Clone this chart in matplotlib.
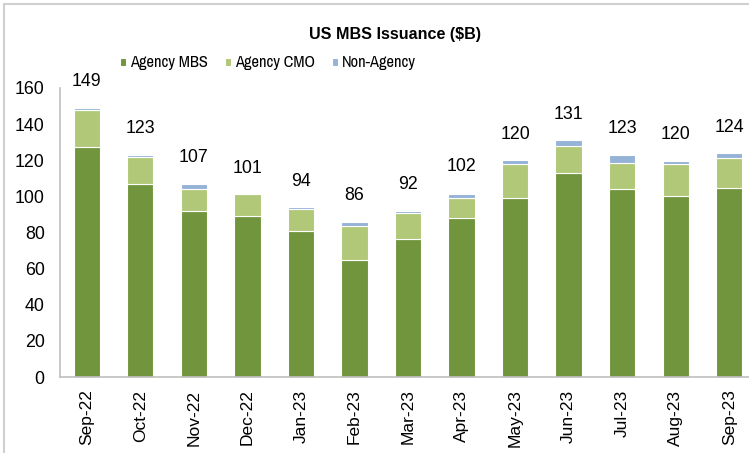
import matplotlib
matplotlib.use("Agg")
import matplotlib.pyplot as plt
from matplotlib.patches import Rectangle
import numpy as np

plt.rcParams['font.family'] = ['Liberation Sans', 'DejaVu Sans']

months = ["Sep-22", "Oct-22", "Nov-22", "Dec-22", "Jan-23", "Feb-23", "Mar-23",
          "Apr-23", "May-23", "Jun-23", "Jul-23", "Aug-23", "Sep-23"]
agency_mbs = [127.5, 107, 92, 89, 81, 64.5, 76.5, 88, 99, 113, 104, 100, 104.5]
agency_cmo = [20.5, 15, 12, 12.5, 12, 19, 14.5, 11, 19, 15, 14.5, 18, 17]
non_agency = [1.0, 1.0, 3.0, 0.3, 1.0, 2.5, 1.0, 2.5, 2.0, 3.0, 4.5, 1.5, 2.5]
totals = [149, 123, 107, 101, 94, 86, 92, 102, 120, 131, 123, 120, 124]

c_mbs = "#71953C"
c_cmo = "#B0C878"
c_non = "#95B3D7"

narrow = ['Archivo Narrow', 'PT Sans Narrow', 'Liberation Sans', 'DejaVu Sans']

fig = plt.figure(figsize=(7.49, 4.53), dpi=100)
ax = fig.add_axes([60/749, 1-377/453, 696/749, 289/453])

x = np.arange(len(months))
w = 0.49
mbs = np.array(agency_mbs)
cmo = np.array(agency_cmo)
non = np.array(non_agency)
ax.bar(x, mbs, w, color=c_mbs, edgecolor="white", linewidth=0.8, label="Agency MBS")
ax.bar(x, cmo, w, bottom=mbs, color=c_cmo, edgecolor="white", linewidth=0.8, label="Agency CMO")
ax.bar(x, non, w, bottom=mbs+cmo, color=c_non, edgecolor="white", linewidth=0.8, label="Non-Agency")

for xi, t in zip(x, totals):
    ax.annotate(str(t), (xi, t), xytext=(0, 18.7), textcoords="offset points",
                ha="center", va="center", fontsize=12.8, color="black")

ax.set_xlim(-0.5, len(months) - 0.5)
ax.set_ylim(0, 160)
ax.set_yticks(range(0, 161, 20))
ax.set_xticks(x)
ax.set_xticklabels(months, rotation=90, fontsize=12.5)
ax.tick_params(axis="y", length=0, pad=11, labelsize=12.8)
ax.tick_params(axis="x", length=0, pad=9)
for s in ["top", "right"]:
    ax.spines[s].set_visible(False)
for s in ["left", "bottom"]:
    ax.spines[s].set_color("#BFBFBF")
    ax.spines[s].set_linewidth(1.2)

fig.text(395/749, 1-35/453, "US MBS Issuance ($B)", ha="center", va="center",
         fontsize=11.6, fontweight="bold")
leg = fig.legend(loc="center", bbox_to_anchor=(268/749, 1-63/453), ncol=3,
                 frameon=False, prop={'family': narrow, 'size': 11.8},
                 handlelength=0.4, handleheight=0.4,
                 handletextpad=0.25, columnspacing=1.0, borderaxespad=0)

fig.patches.append(Rectangle((4/749, -0.1), 1.2, 1-4/453 + 0.1, transform=fig.transFigure,
                             fill=False, edgecolor="#D0D0D0", linewidth=1.5))

fig.savefig("out.png", dpi=100)
